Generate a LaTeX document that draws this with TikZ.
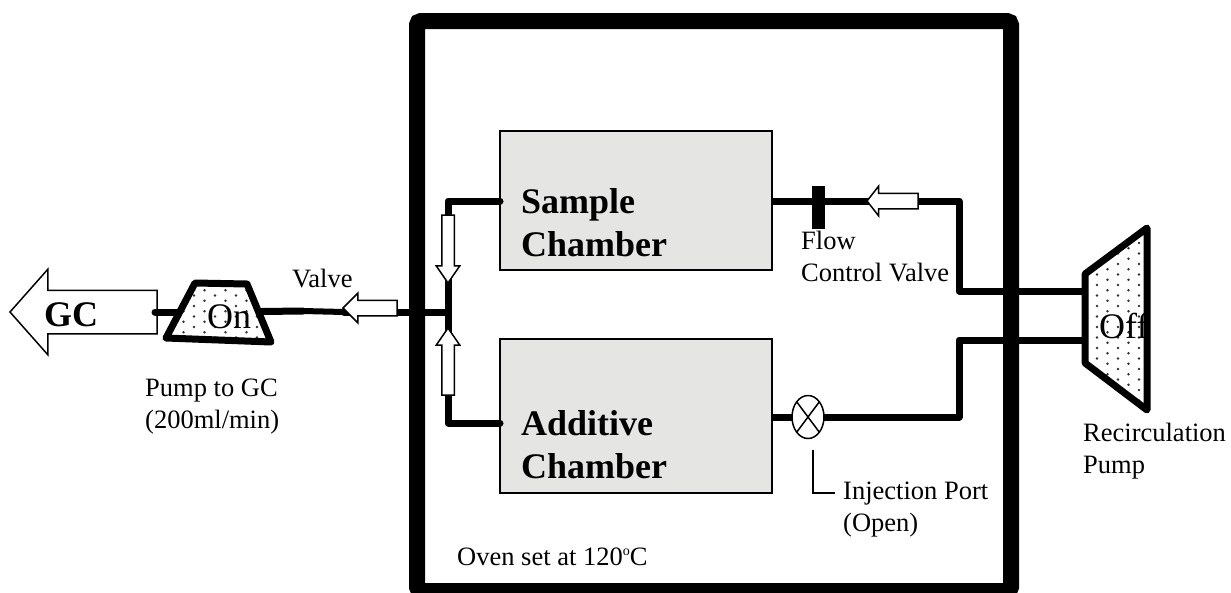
\documentclass[tikz,border=0pt]{standalone}
\usepackage{fontspec}
\setmainfont{Liberation Serif}
\usepackage{tikz}
\usetikzlibrary{positioning,shapes.geometric,shapes.arrows,patterns}
\definecolor{chambergrey}{HTML}{E5E5E3}
\definecolor{dotgrey}{HTML}{333333}
\pgfdeclarepatternformonly{pumpdots}{\pgfqpoint{-1pt}{-1pt}}{\pgfqpoint{22pt}{11pt}}{\pgfqpoint{21pt}{10.5pt}}{%
  \pgfpathcircle{\pgfqpoint{5pt}{2.5pt}}{1.3pt}%
  \pgfpathcircle{\pgfqpoint{15.5pt}{7.75pt}}{1.3pt}%
  \pgfusepath{fill}}

\begin{document}
\begin{tikzpicture}[
      x=1pt, y=-1pt,
      oven/.style={rectangle, draw=black, line width=16pt, rounded corners=4pt,
                   minimum width=594pt, minimum height=570pt, outer sep=0pt},
      chamber/.style={rectangle, draw=black, line width=1.2pt, fill=chambergrey,
                      outer sep=0pt, inner sep=0pt},
      pipe/.style={line width=7pt, line cap=round, line join=round, black},
      pump/.style={draw=black, line width=7pt, line join=round,
                   preaction={fill=white}, pattern=pumpdots, pattern color=dotgrey},
      flow/.style={single arrow, draw=black, line width=1.5pt, fill=white,
                   outer sep=0pt, anchor=tip},
      small/.style={font=\fontsize{26.5}{31.5}\selectfont, align=left, anchor=base west, inner sep=0pt},
      big/.style={font=\fontsize{36}{43}\selectfont\bfseries, align=left, anchor=base west, inner sep=0pt},
      state/.style={font=\fontsize{36}{43}\selectfont, anchor=base west, inner sep=0pt},
    ]
    \useasboundingbox (0,0) rectangle (1231,592);

    \node[oven] (box) at (714,306) {};
    \node[chamber, minimum width=272pt, minimum height=139pt] (sample) at (636,200.5) {};
    \node[chamber, minimum width=272pt, minimum height=154pt] (additive) at (636,416) {};

    % corner points of the pipe runs
    \coordinate (jt) at (448,201);
    \coordinate (jm) at (448,312);
    \coordinate (jb) at (448,423);
    \coordinate (st) at (959,201);
    \coordinate (rt) at (959,291);
    \coordinate (rb) at (959,340);
    \coordinate (ab) at (959,417);
    \coordinate (vl) at (303,311);
    \coordinate (vr) at (344,312);
    \coordinate (gcin) at (219,312);
    \coordinate (gcout) at (155,312);
    \coordinate (recl) at (1085,291);
    \coordinate (recm) at (1085,340);

    \draw[pipe] (additive.west |- jb) -- (jb) -- (jt) -- (sample.west |- jt);
    \draw[pipe] (jm) -- (vr);
    \draw[pipe, line width=6pt] (vr) -- (vl);
    \draw[pipe] (vl) -- (gcin);
    \draw[pipe, line cap=butt] (sample.east |- st) -- (st) -- (rt) -- (recl);
    \draw[pipe, line cap=butt] (recm) -- (rb) -- (ab) -- (additive.east |- ab);

    \node[ellipse, draw=black, line width=1.5pt, fill=white, minimum width=32pt,
          minimum height=43pt, inner sep=0pt, outer sep=0pt] (inject) at (808,417) {};
    \draw[line width=1.5pt] (inject.north west) -- (inject.south east);
    \draw[line width=1.5pt] (inject.north east) -- (inject.south west);
    \node[rectangle, fill=black, minimum width=13pt, minimum height=43pt,
          inner sep=0pt, outer sep=0pt] (flowvalve) at (818.5,207.5) {};

    \node[flow, minimum height=147pt, minimum width=84pt, inner sep=21pt, single arrow head extend=21pt,
          single arrow tip angle=97, shape border rotate=180] (togc) at (10,312) {};
    \draw[pipe] (gcin) -- (gcout);

    \draw[pump] (195,283) -- (247,284) -- (271,342) -- (166,338) -- cycle;
    \draw[pump] (1085,274) -- (1147,228) -- (1147,410) -- (1085,363) -- cycle;

    \node[flow, minimum height=54pt, minimum width=28pt, inner sep=7pt, single arrow head extend=7pt,
          single arrow tip angle=90, shape border rotate=180] (a1) at (343,308) {};
    \node[flow, minimum height=51pt, minimum width=28pt, inner sep=7pt, single arrow head extend=7pt,
          single arrow tip angle=104, shape border rotate=180] (a2) at (867,201) {};
    \node[flow, minimum height=68pt, minimum width=22pt, inner sep=5.5pt, single arrow head extend=5.5pt,
          single arrow tip angle=69, shape border rotate=270] (a3) at (448,283) {};
    \node[flow, minimum height=67pt, minimum width=22pt, inner sep=5.5pt, single arrow head extend=5.5pt,
          single arrow tip angle=69, shape border rotate=90] (a4) at (448,328) {};

    \node[big] (t1) at (521,256) {Sample\\Chamber};
    \node[big] (t2) at (521,478) {Additive\\Chamber};
    \node[big] (t3) at (44,326) {GC};
    \node[state] (t4) at (207,328) {On};
    \node[state] (t5) at (1099,338) {Off};
    \node[small] (t6) at (292,287) {Valve};
    \node[small] (t7) at (145,428) {Pump to GC\\(200ml/min)};
    \node[small] (t8) at (801,281) {Flow\\Control Valve};
    \node[small] (t9) at (1083,473) {Recirculation\\Pump};
    \node[small] (t10) at (843,531) {Injection Port\\(Open)};
    \node[small] (t11) at (457,565) {Oven set at 120\raisebox{10pt}{\fontsize{14}{14}\selectfont o}C};

    \coordinate (ll) at (813,493);
    \draw[line width=1.5pt] (813,450) -- (ll) -- (835,493);
  \end{tikzpicture}
\end{document}
